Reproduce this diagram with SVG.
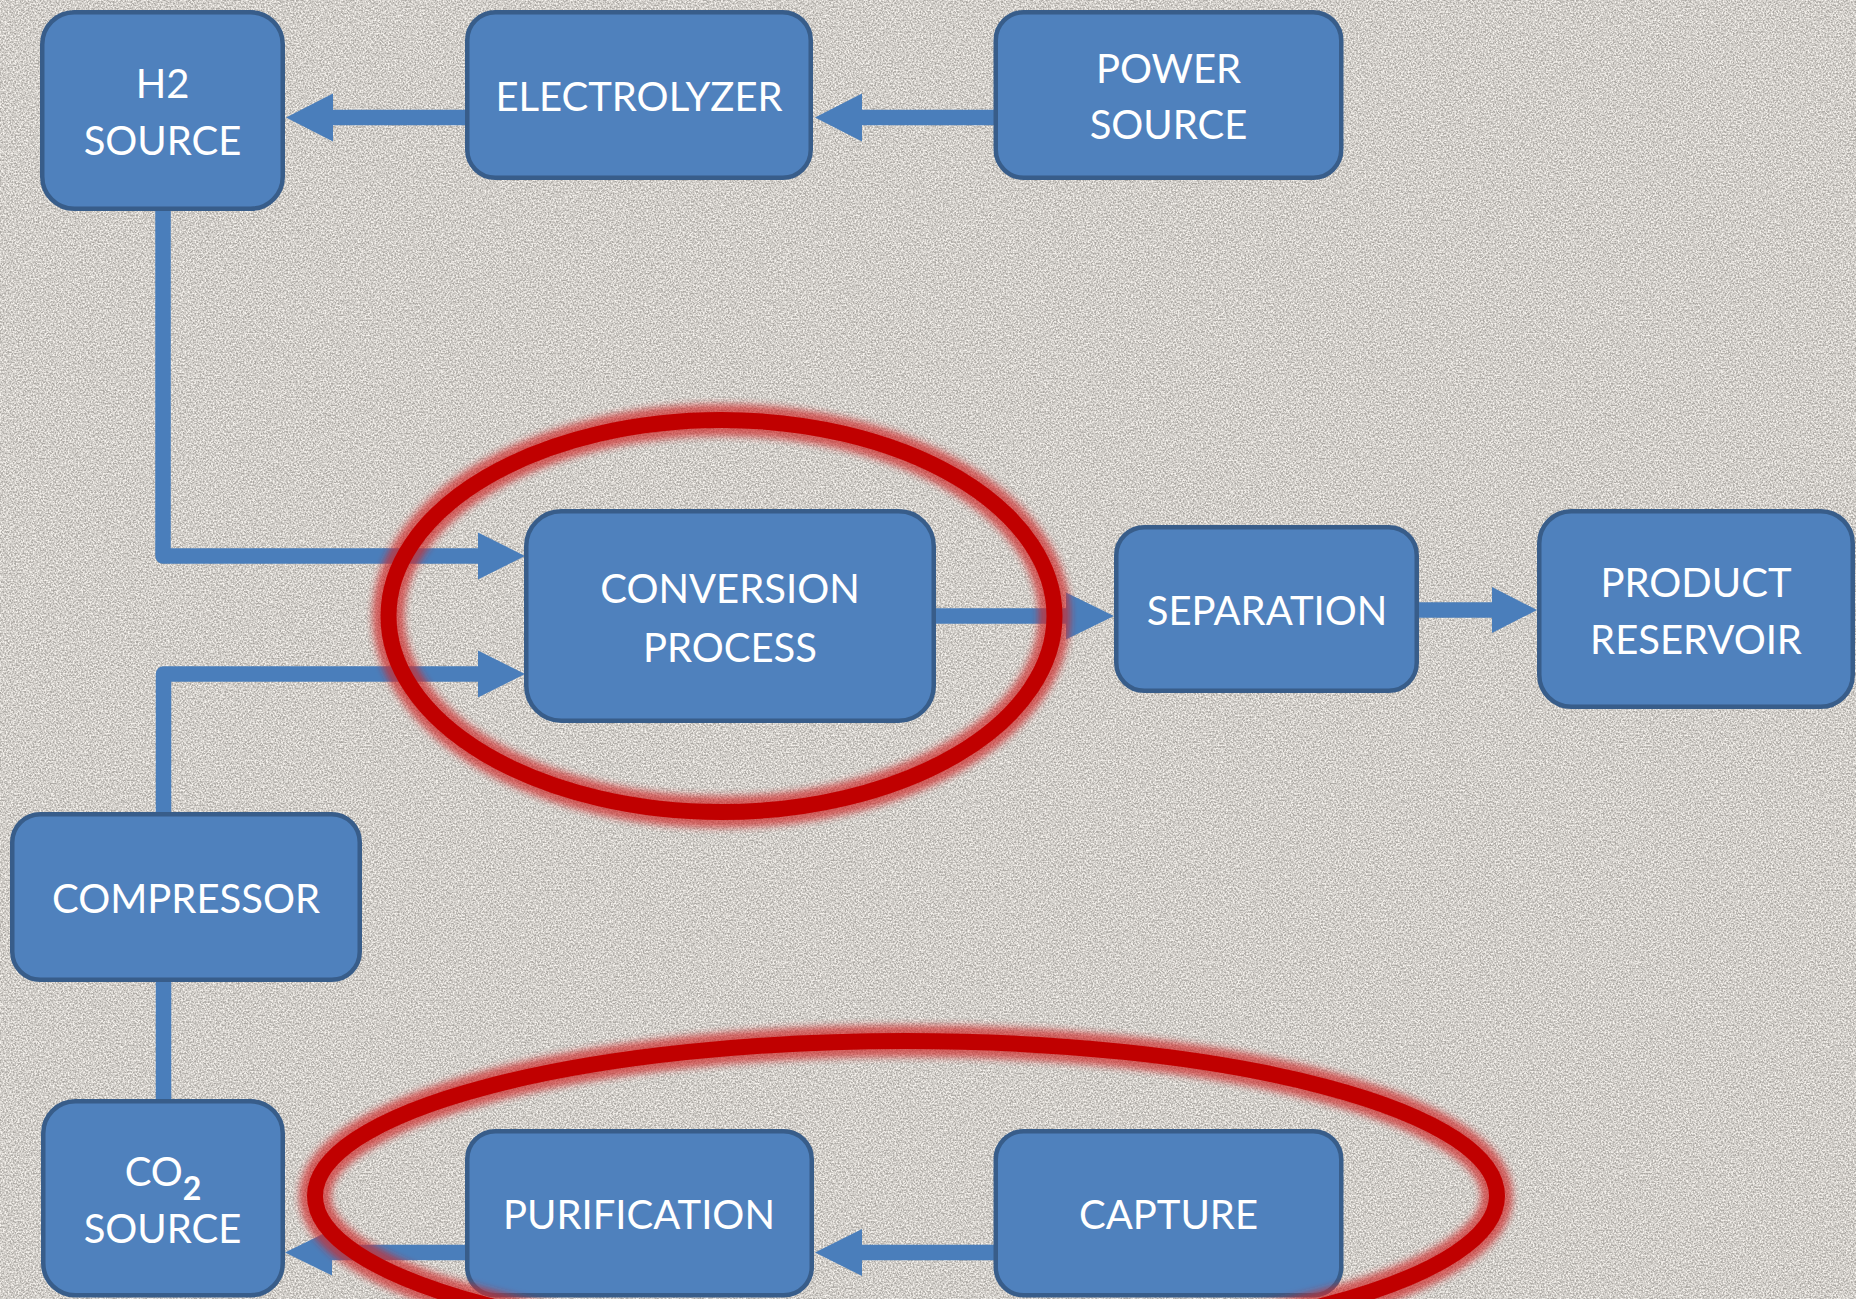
<svg xmlns="http://www.w3.org/2000/svg" width="1856" height="1299" viewBox="0 0 1856 1299">
  <defs>
    <style>
      .box { fill: #4F81BD; stroke: #385D8A; stroke-width: 4.5; }
      .lbl { fill: #FFFFFF; font-family: Lato, "Open Sans", "Liberation Sans", sans-serif; font-size: 40px; text-anchor: middle; }
      .wire { fill: none; stroke: #4A7EBB; stroke-width: 15.5; stroke-linejoin: round; }
      .head { fill: #4A7EBB; }
      .ring { fill: none; stroke: #C00000; stroke-width: 16; }
      .halo { fill: none; stroke: #D02828; stroke-opacity: 0.7; stroke-width: 32; }
    </style>
    <filter id="grain" x="0" y="0" width="100%" height="100%" color-interpolation-filters="sRGB">
      <feTurbulence type="fractalNoise" baseFrequency="0.6" numOctaves="2" seed="7" result="n"/>
      <feColorMatrix in="n" type="matrix" values="2.2 0 0 0 -0.6  2.2 0 0 0 -0.6  2.2 0 0 0 -0.6  0 0 0 0 0.3"/>
    </filter>
    <filter id="soft" x="-10%" y="-20%" width="120%" height="140%">
      <feGaussianBlur stdDeviation="3.5"/>
    </filter>
  </defs>

  <!-- granite backdrop -->
  <rect width="1856" height="1299" fill="#F4EFE8"/>
  <rect width="1856" height="1299" filter="url(#grain)"/>

  <!-- connectors -->
  <g id="connectors">
    <!-- electrolyzer to H2 source -->
    <line class="wire" x1="466" y1="117.5" x2="328" y2="117.5"/>
    <polygon class="head" points="286,117.5 333,93.5 333,141.5"/>
    <!-- power source to electrolyzer -->
    <line class="wire" x1="994" y1="117.5" x2="857" y2="117.5"/>
    <polygon class="head" points="815,117.5 862,93.5 862,141.5"/>
    <!-- H2 source down to conversion -->
    <path class="wire" d="M163 211 V556 H482"/>
    <polygon class="head" points="525,556 478,532.5 478,579.5"/>
    <!-- compressor up to conversion -->
    <path class="wire" d="M163.5 812 V674 H482"/>
    <polygon class="head" points="525,674 478,650.5 478,697.5"/>
    <!-- CO2 source to compressor -->
    <line class="wire" x1="163.5" y1="982" x2="163.5" y2="1100"/>
    <!-- conversion to separation -->
    <line class="wire" x1="935" y1="616" x2="1070" y2="616"/>
    <polygon class="head" points="1114,616 1066,592.5 1066,639.5"/>
    <!-- separation to product reservoir -->
    <line class="wire" x1="1418" y1="610" x2="1496" y2="610"/>
    <polygon class="head" points="1537,610 1492,587 1492,633"/>
    <!-- purification to CO2 source -->
    <line class="wire" x1="466" y1="1252.5" x2="328" y2="1252.5"/>
    <polygon class="head" points="285,1252.5 332,1229.5 332,1275.5"/>
    <!-- capture to purification -->
    <line class="wire" x1="994" y1="1252.5" x2="857" y2="1252.5"/>
    <polygon class="head" points="815,1252.5 862,1229 862,1276"/>
  </g>

  <g id="h2-source">
    <rect class="box" x="42.25" y="12.25" width="240.5" height="196.5" rx="32"/>
    <text class="lbl" x="162.5" y="98">H2</text>
    <text class="lbl" x="162.5" y="155">SOURCE</text>
  </g>

  <g id="electrolyzer">
    <rect class="box" x="467.25" y="12.25" width="343.5" height="165.5" rx="28"/>
    <text class="lbl" x="639" y="111">ELECTROLYZER</text>
  </g>

  <g id="power-source">
    <rect class="box" x="995.75" y="12.25" width="345.5" height="165.5" rx="28"/>
    <text class="lbl" x="1168.5" y="83">POWER</text>
    <text class="lbl" x="1168.5" y="139">SOURCE</text>
  </g>

  <g id="conversion-process">
    <rect class="box" x="526.25" y="511.25" width="407.5" height="209.5" rx="35"/>
    <text class="lbl" x="730" y="603">CONVERSION</text>
    <text class="lbl" x="730" y="662">PROCESS</text>
  </g>

  <g id="separation">
    <rect class="box" x="1116.25" y="527.25" width="300.5" height="163.5" rx="28"/>
    <text class="lbl" x="1267" y="625">SEPARATION</text>
  </g>

  <g id="product-reservoir">
    <rect class="box" x="1539.25" y="511.25" width="313.5" height="195.5" rx="32"/>
    <text class="lbl" x="1696" y="597">PRODUCT</text>
    <text class="lbl" x="1696" y="654">RESERVOIR</text>
  </g>

  <g id="compressor">
    <rect class="box" x="12.25" y="814.25" width="347.5" height="165.5" rx="28"/>
    <text class="lbl" x="186" y="913">COMPRESSOR</text>
  </g>

  <g id="co2-source">
    <rect class="box" x="43.25" y="1101.25" width="239.5" height="194" rx="32"/>
    <text class="lbl" x="163" y="1186">CO<tspan dy="14" font-size="32" font-weight="bold">2</tspan></text>
    <text class="lbl" x="162.5" y="1243">SOURCE</text>
  </g>

  <g id="purification">
    <rect class="box" x="467.25" y="1131.25" width="344.5" height="164" rx="28"/>
    <text class="lbl" x="639" y="1229">PURIFICATION</text>
  </g>

  <g id="capture">
    <rect class="box" x="995.75" y="1131.25" width="345.5" height="164" rx="28"/>
    <text class="lbl" x="1168.5" y="1229">CAPTURE</text>
  </g>

  <!-- red highlight rings -->
  <g id="highlight-conversion">
    <ellipse class="halo" cx="721.5" cy="616" rx="333" ry="196" filter="url(#soft)"/>
    <ellipse class="ring" cx="721.5" cy="616" rx="333" ry="196"/>
  </g>
  <g id="highlight-co2-prep">
    <ellipse class="halo" cx="906" cy="1196" rx="591" ry="155" filter="url(#soft)"/>
    <ellipse class="ring" cx="906" cy="1196" rx="591" ry="155"/>
  </g>
</svg>
